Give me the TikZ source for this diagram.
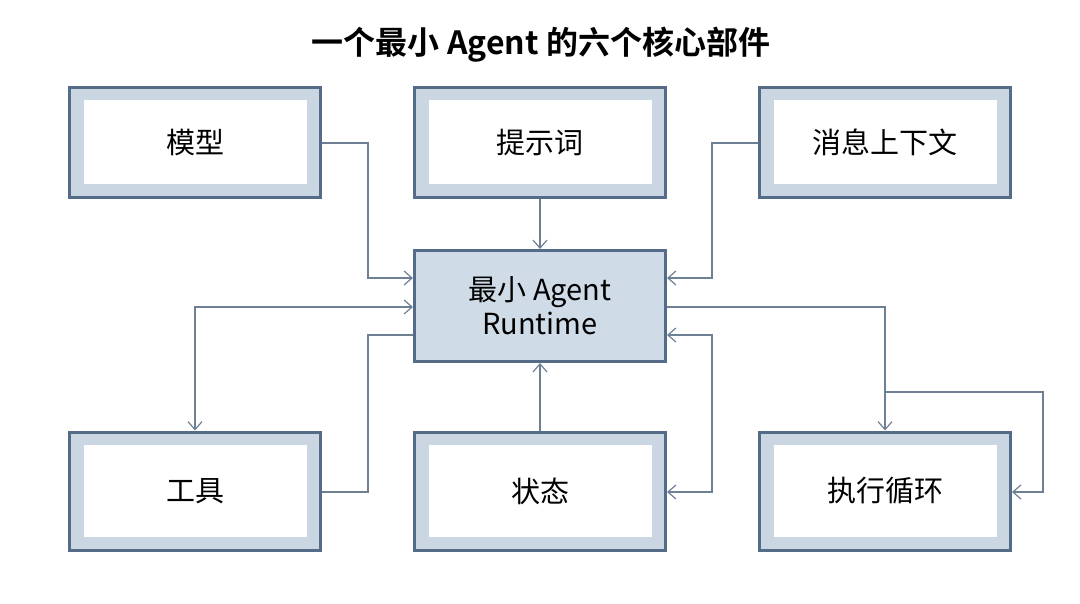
\documentclass[tikz,border=0pt]{standalone}
\usepackage{fontspec}
\setmainfont{Noto Sans CJK SC}[BoldFont={Noto Sans CJK SC Bold}]
\usetikzlibrary{arrows.meta}
\definecolor{bdark}{HTML}{546C87}
\definecolor{bband}{HTML}{CAD7E3}
\definecolor{bcore}{HTML}{CFDBE7}
\definecolor{conn}{HTML}{6E8094}
\tikzset{
  part/.style={draw=bdark, line width=3pt, fill=bband, minimum width=251pt, minimum height=110pt,
    inner sep=0pt, font=\fontsize{29}{34}\selectfont, text=black,
    path picture={\fill[white] ([shift={(14pt,13pt)}]path picture bounding box.south west)
      rectangle ([shift={(-14pt,-13pt)}]path picture bounding box.north east);}},
  lowpart/.style={part, minimum height=118pt},
  core/.style={draw=bdark, line width=3pt, fill=bcore, minimum width=251pt, minimum height=111pt,
    inner sep=0pt, align=center, font=\fontsize{29}{34}\selectfont, text=black},
  link/.style={draw=conn, line width=1.2pt},
  arr/.style={-{Straight Barb[length=8pt,width=14pt,line width=1.2pt]}},
  barr/.style={{Straight Barb[length=8pt,width=14pt,line width=1.2pt]}-{Straight Barb[length=8pt,width=14pt,line width=1.2pt]}},
  ttl/.style={font=\bfseries\fontsize{32}{38}\selectfont, text=black}
}
\begin{document}
\begin{tikzpicture}[x=1pt,y=-1pt]
\useasboundingbox (0,0) rectangle (1080,603);
\node[ttl] (title) at (541,45) {一个最小 Agent 的六个核心部件};
\node[part] (m) at (195,142) {模型};
\node[part] (p) at (540,142) {提示词};
\node[part] (c) at (885,142) {消息上下文};
\node[core] (r) at (540,306) {最小 Agent\\Runtime};
\node[lowpart] (t) at (195,491) {工具};
\node[lowpart] (s) at (540,491) {状态};
\node[lowpart] (e) at (885,491) {执行循环};
\coordinate (loopa) at (885,392);
% 模型 -> runtime
\draw[link,arr] (m.east |- 0,143) -| (368,278) -- (r.west |- 0,278);
% 提示词 -> runtime
\draw[link,arr] (p.south) -- (r.north);
% 消息上下文 -> runtime
\draw[link,arr] (c.west |- 0,143) -| (712,278) -- (r.east |- 0,278);
% runtime <-> 工具
\draw[link,barr] (r.west |- 0,307) -| (t.north);
% 工具 -> runtime
\draw[link] (t.east |- 0,492) -| (368,335) -- (r.west |- 0,335);
% 状态 -> runtime
\draw[link,arr] (s.north) -- (r.south);
% runtime <-> 状态
\draw[link,barr] (r.east |- 0,335) -| (712,492) -- (s.east |- 0,492);
% runtime -> 执行循环
\draw[link,arr] (r.east |- 0,307) -| (e.north);
% loop
\draw[link,arr] (loopa) -| (1043,492) -- (e.east |- 0,492);
\end{tikzpicture}
\end{document}
